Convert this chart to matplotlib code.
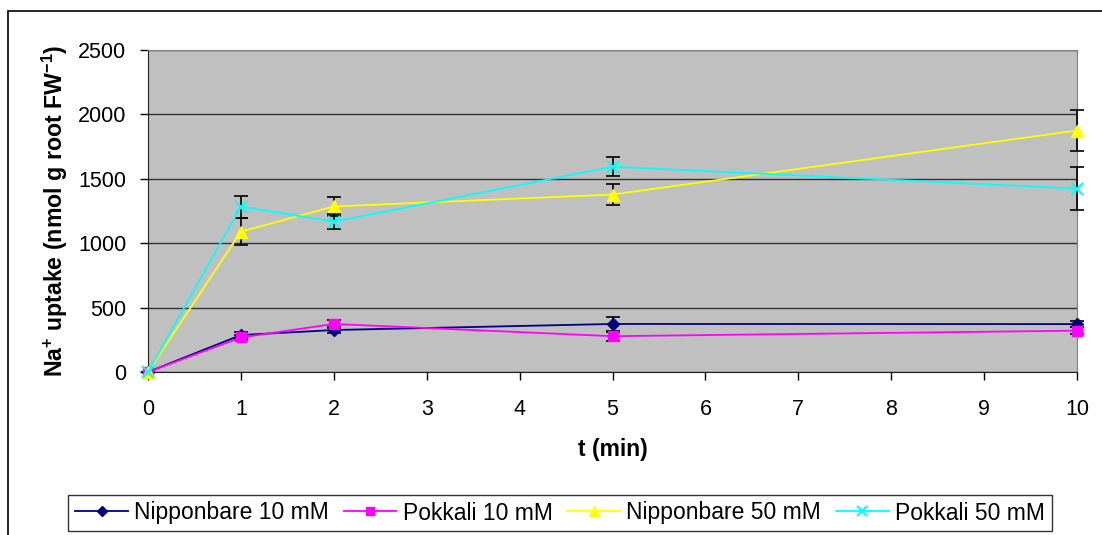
import matplotlib
matplotlib.use('Agg')
from matplotlib import pyplot as plt
from matplotlib.patches import Rectangle

plt.rcParams['font.family'] = ['Liberation Sans', 'DejaVu Sans']
plt.rcParams['mathtext.fontset'] = 'custom'
plt.rcParams['mathtext.rm'] = 'Liberation Sans:bold'
plt.rcParams['mathtext.bf'] = 'Liberation Sans:bold'

# time points (min)
t = [0, 1, 2, 5, 10]

nip10 = [0, 287, 326, 373, 372]
nip10_err = [0, 20, 25, 55, 25]
pok10 = [0, 268, 373, 278, 321]
pok10_err = [0, 20, 30, 35, 25]
nip50 = [0, 1090, 1285, 1378, 1875]
nip50_err = [0, 105, 70, 78, 161]
pok50 = [0, 1284, 1167, 1594, 1424]
pok50_err = [0, 85, 60, 72, 166]

labels = ['Nipponbare 10 mM', 'Pokkali 10 mM', 'Nipponbare 50 mM', 'Pokkali 50 mM']
colors = ['#000080', '#FF00FF', '#FFFF00', '#00FFFF']
markers = ['D', 's', '^', 'x']
msizes = [6, 7, 8, 8]

fig = plt.figure(figsize=(11.02, 5.35), dpi=100)
ax = fig.add_axes([148/1102, 1 - 372/535, (1077-148)/1102, (372-50)/535])
ax.set_facecolor('#C0C0C0')

series = [(nip10, nip10_err), (pok10, pok10_err), (nip50, nip50_err), (pok50, pok50_err)]
for i, (vals, errs) in enumerate(series):
    ax.errorbar(t, vals, yerr=errs, fmt='none', ecolor='black', elinewidth=1.2,
                capsize=5, capthick=1.2, zorder=3, clip_on=False)
for i, (vals, errs) in enumerate(series):
    mew = 1.5 if markers[i] == 'x' else 1
    ax.plot(t, vals, color=colors[i], marker=markers[i], markersize=msizes[i],
            markeredgewidth=mew, linewidth=1.3, label=labels[i], zorder=4, clip_on=False)

ax.set_xlim(0, 10)
ax.set_ylim(0, 2500)
ax.set_xticks(range(0, 11))
ax.set_yticks(range(0, 2501, 500))
ax.yaxis.grid(True, color='#333333', linewidth=1)
ax.set_axisbelow(True)
ax.tick_params(labelsize=15.5, length=5.5, width=1, color='black')
ax.tick_params(axis='y', pad=10)
ax.tick_params(axis='x', pad=14)
for s in ['top', 'right']:
    ax.spines[s].set_color('#808080')
for s in ['left', 'bottom']:
    ax.spines[s].set_color('#222222')

ax.set_xlabel('t (min)', fontsize=16.5, fontweight='bold', labelpad=13)
ax.set_ylabel(r'Na$^{+}$ uptake (nmol g root FW$^{-1}$)', fontsize=16.7, fontweight='bold', labelpad=6)

leg = fig.legend(loc='center', bbox_to_anchor=(560/1102, 1 - 513/535), ncol=4,
                 fontsize=16.5, frameon=True, fancybox=False, edgecolor='black',
                 handlelength=2.3, handletextpad=0.27, columnspacing=0.65, borderpad=0.3,
                 markerscale=0.85)
leg.get_frame().set_linewidth(1)

# outer chart border
fig.add_artist(Rectangle((8/1102, -0.1), 1.2, 1.1 - 11/535, transform=fig.transFigure,
                         fill=False, edgecolor='black', linewidth=1.2))

fig.savefig('out.png', dpi=100)
